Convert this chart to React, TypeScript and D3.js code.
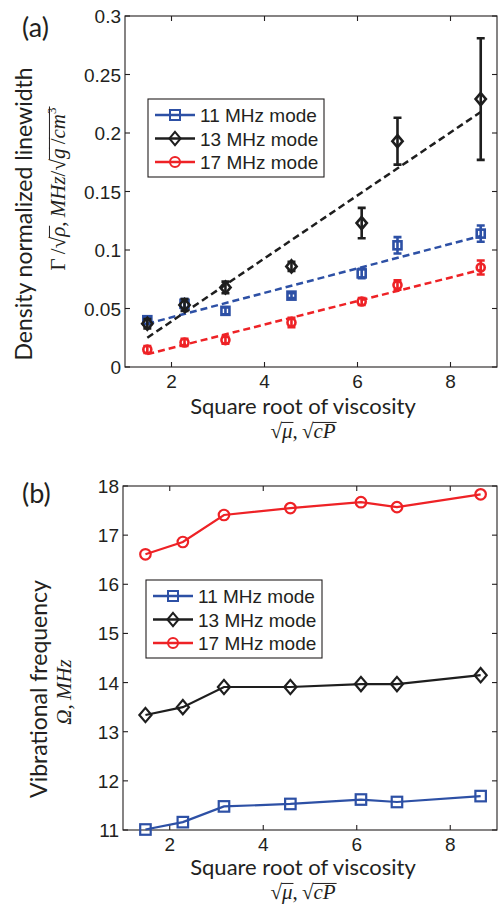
import React, { useEffect, useRef } from 'react';
import * as d3 from 'd3';

// square root of viscosity (sqrt cP), shared by every series
const viscosity = [1.48, 2.28, 3.16, 4.58, 6.09, 6.86, 8.65];
const modes = ['11 MHz mode', '13 MHz mode', '17 MHz mode'];

// (a) density normalized linewidth and its error
const width11 = [0.04, 0.054, 0.048, 0.061, 0.08, 0.104, 0.114];
const err11 = [0.003, 0.004, 0.003, 0.002, 0.004, 0.007, 0.007];
const width13 = [0.037, 0.053, 0.068, 0.086, 0.123, 0.193, 0.229];
const err13 = [0.004, 0.005, 0.005, 0.004, 0.013, 0.02, 0.052];
const width17 = [0.015, 0.021, 0.023, 0.038, 0.056, 0.07, 0.085];
const err17 = [0.003, 0.003, 0.003, 0.004, 0.003, 0.004, 0.006];

// (a) dashed fit lines, start and end of the fitted range
const fitRange = [1.48, 8.65];
const fit11 = [0.037, 0.112];
const fit13 = [0.025, 0.218];
const fit17 = [0.011, 0.083];

// (b) vibrational frequency, MHz
const freq11 = [11.01, 11.16, 11.48, 11.53, 11.62, 11.57, 11.69];
const freq13 = [13.34, 13.5, 13.91, 13.91, 13.97, 13.97, 14.15];
const freq17 = [16.61, 16.86, 17.41, 17.55, 17.67, 17.57, 17.83];

const xTicks = [2, 4, 6, 8];
const widthTicks = [0, 0.05, 0.1, 0.15, 0.2, 0.25, 0.3];
const freqTicks = [11, 12, 13, 14, 15, 16, 17, 18];

const colors = ['#2d50a5', '#1e1e1e', '#ee2226'];
const shapes = ['square', 'diamond', 'circle'];
const ink = '#231f20';
const tickFont = 'Liberation Sans, Arial, sans-serif';
const labelFont = 'Lato, "Open Sans", sans-serif';
const mathFont = 'Liberation Serif, Times New Roman, serif';
const thin = '\u2009';

type Piece = { t: string; it?: boolean; bar?: boolean; sup?: boolean };

const drawMarker = (g: any, shape: string, cx: number, cy: number, size: number, color: string, sw: number) => {
  if (shape === 'square') {
    g.append('rect')
      .attr('x', cx - size / 2)
      .attr('y', cy - size / 2)
      .attr('width', size)
      .attr('height', size)
      .attr('fill', 'none')
      .attr('stroke', color)
      .attr('stroke-width', sw);
  } else if (shape === 'diamond') {
    const h = size * 0.55;
    g.append('path')
      .attr('d', `M${cx},${cy - h}L${cx + h * 0.85},${cy}L${cx},${cy + h}L${cx - h * 0.85},${cy}Z`)
      .attr('fill', 'none')
      .attr('stroke', color)
      .attr('stroke-width', sw);
  } else {
    g.append('circle')
      .attr('cx', cx)
      .attr('cy', cy)
      .attr('r', size / 2)
      .attr('fill', 'none')
      .attr('stroke', color)
      .attr('stroke-width', sw);
  }
};

// lays out a little math expression piece by piece and centres it on (x, y)
const drawMath = (parent: any, pieces: Piece[], x: number, y: number, fs: number, rotate: boolean) => {
  const outer = parent
    .append('g')
    .attr('transform', `translate(${x},${y})${rotate ? ' rotate(-90)' : ''}`);
  const g = outer.append('g');
  let cx = 0;
  pieces.forEach((p) => {
    const size = p.sup ? fs * 0.62 : fs;
    const t = g
      .append('text')
      .attr('x', cx)
      .attr('y', p.sup ? -fs * 0.42 : 0)
      .attr('font-family', mathFont)
      .attr('font-size', size)
      .attr('font-style', p.it ? 'italic' : 'normal')
      .attr('fill', ink)
      .style('white-space', 'pre')
      .text(p.t);
    const w = (t.node() as SVGTextElement).getComputedTextLength();
    if (p.bar) {
      g.append('line')
        .attr('x1', cx - 0.5)
        .attr('x2', cx + w + 1)
        .attr('y1', -fs * 0.74)
        .attr('y2', -fs * 0.74)
        .attr('stroke', ink)
        .attr('stroke-width', 1);
    }
    cx += w;
  });
  g.attr('transform', `translate(${-cx / 2},0)`);
};

const drawAxes = (svg: any, x: any, y: any, yTicks: number[], fmt: (d: number) => string) => {
  const [x0, x1] = x.range();
  const [y0, y1] = y.range();
  const ax = svg.append('g').attr('stroke', ink).attr('stroke-width', 1.1);
  const tl = 5;
  xTicks.forEach((t) => {
    ax.append('line').attr('x1', x(t)).attr('x2', x(t)).attr('y1', y0).attr('y2', y0 - tl);
    ax.append('line').attr('x1', x(t)).attr('x2', x(t)).attr('y1', y1).attr('y2', y1 + tl);
  });
  yTicks.forEach((t) => {
    ax.append('line').attr('x1', x0).attr('x2', x0 + tl).attr('y1', y(t)).attr('y2', y(t));
    ax.append('line').attr('x1', x1).attr('x2', x1 - tl).attr('y1', y(t)).attr('y2', y(t));
  });
  ax.append('rect')
    .attr('x', x0)
    .attr('y', y1)
    .attr('width', x1 - x0)
    .attr('height', y0 - y1)
    .attr('fill', 'none');

  svg
    .append('g')
    .selectAll('text')
    .data(xTicks)
    .join('text')
    .attr('x', (d: number) => x(d))
    .attr('y', y0 + 21)
    .attr('text-anchor', 'middle')
    .attr('font-family', tickFont)
    .attr('font-size', 19)
    .attr('fill', ink)
    .text((d: number) => d);

  svg
    .append('g')
    .selectAll('text')
    .data(yTicks)
    .join('text')
    .attr('x', x0 - 4)
    .attr('y', (d: number) => y(d) + 7)
    .attr('text-anchor', 'end')
    .attr('font-family', tickFont)
    .attr('font-size', 19)
    .attr('fill', ink)
    .text((d: number) => fmt(d));
};

const drawLegend = (svg: any, left: number, top: number) => {
  const g = svg.append('g');
  g.append('rect')
    .attr('x', left)
    .attr('y', top)
    .attr('width', 176)
    .attr('height', 78)
    .attr('fill', '#fff')
    .attr('stroke', ink)
    .attr('stroke-width', 1.1);
  modes.forEach((m, i) => {
    const cy = top + 16 + i * 23.5;
    g.append('line')
      .attr('x1', left + 7)
      .attr('x2', left + 47)
      .attr('y1', cy)
      .attr('y2', cy)
      .attr('stroke', colors[i])
      .attr('stroke-width', 2.5);
    drawMarker(g, shapes[i], left + 27, cy, shapes[i] === 'diamond' ? 12 : 10, colors[i], 2);
    g.append('text')
      .attr('x', left + 52)
      .attr('y', cy + 7)
      .attr('font-family', tickFont)
      .attr('font-size', 19)
      .attr('fill', ink)
      .text(m);
  });
};

const drawXLabel = (svg: any, cx: number, base: number) => {
  svg
    .append('text')
    .attr('x', cx)
    .attr('y', base)
    .attr('text-anchor', 'middle')
    .attr('font-family', labelFont)
    .attr('font-size', 22)
    .attr('fill', ink)
    .text('Square root of viscosity');
  drawMath(
    svg,
    [
      { t: '√' },
      { t: 'μ', it: true, bar: true },
      { t: ',' + thin },
      { t: '√' },
      { t: 'cP', it: true, bar: true },
    ],
    cx,
    base + 24,
    21,
    false
  );
};

export default function App() {
  const ref = useRef<SVGSVGElement>(null);

  useEffect(() => {
    const svg = d3.select(ref.current);
    svg.selectAll('*').remove();

    // ---------- (a) linewidth ----------
    const xA = d3.scaleLinear().domain([1, 9]).range([125, 497]);
    const yA = d3.scaleLinear().domain([0, 0.3]).range([367, 16]);
    const widths = [width11, width13, width17];
    const errs = [err11, err13, err17];
    const fits = [fit11, fit13, fit17];

    drawAxes(svg, xA, yA, widthTicks, (d) => String(+d.toFixed(2)));

    const line = d3
      .line<number>()
      .x((_, i) => xA(fitRange[i]))
      .y((d) => yA(d));

    fits.forEach((f, s) => {
      svg
        .append('path')
        .datum(f)
        .attr('d', line)
        .attr('fill', 'none')
        .attr('stroke', colors[s])
        .attr('stroke-width', 2.5)
        .attr('stroke-dasharray', '7,4');
    });

    widths.forEach((vals, s) => {
      const g = svg.append('g');
      vals.forEach((v, i) => {
        const cx = xA(viscosity[i]);
        const lo = yA(v - errs[s][i]);
        const hi = yA(v + errs[s][i]);
        g.append('path')
          .attr('d', `M${cx},${lo}V${hi}M${cx - 4},${lo}H${cx + 4}M${cx - 4},${hi}H${cx + 4}`)
          .attr('stroke', colors[s])
          .attr('stroke-width', 2.6)
          .attr('fill', 'none');
        drawMarker(g, shapes[s], cx, yA(v), shapes[s] === 'diamond' ? 11 : 8, colors[s], 2.6);
      });
    });

    drawLegend(svg, 148, 99);

    svg
      .append('text')
      .attr('x', 22)
      .attr('y', 37)
      .attr('font-family', labelFont)
      .attr('font-size', 27)
      .attr('fill', ink)
      .text('(a)');

    svg
      .append('text')
      .attr('transform', 'translate(32,214) rotate(-90)')
      .attr('text-anchor', 'middle')
      .attr('font-family', labelFont)
      .attr('font-size', 23)
      .attr('fill', ink)
      .text('Density normalized linewidth');

    drawMath(
      svg,
      [
        { t: 'Γ' },
        { t: thin + '/' },
        { t: '√' },
        { t: 'ρ', it: true, bar: true },
        { t: ',' + thin },
        { t: 'MHz', it: true },
        { t: '/' },
        { t: '√' },
        { t: 'g', it: true, bar: true },
        { t: thin + '/', bar: true },
        { t: 'cm', it: true, bar: true },
        { t: '3', sup: true, bar: true },
      ],
      65,
      189,
      21,
      true
    );

    drawXLabel(svg, 303, 414);

    // ---------- (b) frequency ----------
    const xB = d3.scaleLinear().domain([1, 9]).range([123, 497]);
    const yB = d3.scaleLinear().domain([11, 18]).range([830, 486]);
    const freqs = [freq11, freq13, freq17];

    drawAxes(svg, xB, yB, freqTicks, (d) => String(d));

    const fLine = d3
      .line<number>()
      .x((_, i) => xB(viscosity[i]))
      .y((d) => yB(d));

    freqs.forEach((vals, s) => {
      const g = svg.append('g');
      g.append('path')
        .datum(vals)
        .attr('d', fLine)
        .attr('fill', 'none')
        .attr('stroke', colors[s])
        .attr('stroke-width', 2.2);
      vals.forEach((v, i) => {
        drawMarker(g, shapes[s], xB(viscosity[i]), yB(v), shapes[s] === 'diamond' ? 13 : 10.5, colors[s], 2.2);
      });
    });

    drawLegend(svg, 146, 580);

    svg
      .append('text')
      .attr('x', 22)
      .attr('y', 503)
      .attr('font-family', labelFont)
      .attr('font-size', 27)
      .attr('fill', ink)
      .text('(b)');

    svg
      .append('text')
      .attr('transform', 'translate(47,689) rotate(-90)')
      .attr('text-anchor', 'middle')
      .attr('font-family', labelFont)
      .attr('font-size', 23)
      .attr('fill', ink)
      .text('Vibrational frequency');

    drawMath(
      svg,
      [{ t: 'Ω', it: true }, { t: ',' + thin }, { t: 'MHz', it: true }],
      71,
      692,
      21,
      true
    );

    drawXLabel(svg, 303, 875);
  }, []);

  return (
    <svg
      ref={ref}
      width={499}
      height={913}
      style={{ position: 'absolute', left: 0, top: 0, background: '#fff' }}
    />
  );
}
